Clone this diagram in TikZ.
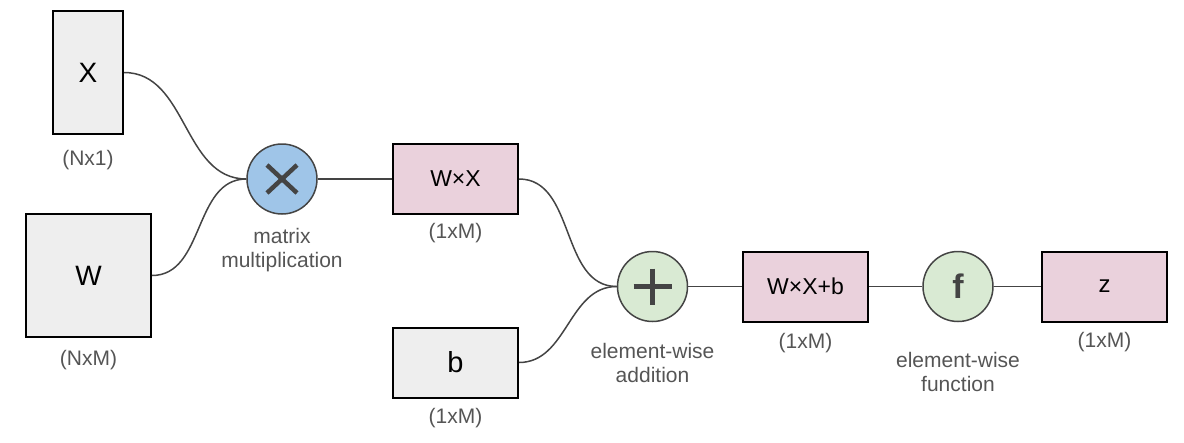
\documentclass[tikz,border=0pt]{standalone}
\usepackage{fontspec}
\setmainfont{Liberation Sans}
\usetikzlibrary{calc}
\definecolor{boxgray}{HTML}{EEEEEE}
\definecolor{boxpink}{HTML}{EAD1DC}
\definecolor{opblue}{HTML}{9FC5E8}
\definecolor{opgreen}{HTML}{D9EAD3}
\definecolor{linegray}{HTML}{444444}
\definecolor{labelgray}{HTML}{555555}
\tikzset{
  mbox/.style={draw=black, line width=2pt, inner sep=0pt, align=center},
  graybox/.style={mbox, fill=boxgray},
  pinkbox/.style={mbox, fill=boxpink, minimum width=125pt, minimum height=70pt},
  opcirc/.style={circle, draw=linegray, line width=1.5pt, minimum size=70pt, inner sep=0pt},
  dimlabel/.style={text=labelgray, font=\fontsize{21}{24}\selectfont, inner sep=0pt},
  oplabel/.style={text=labelgray, font=\fontsize{21}{24}\selectfont, align=center, inner sep=0pt},
  conn/.style={draw=linegray, line width=1.5pt},
  sym/.style={draw=linegray, line width=4.5pt}
}
\begin{document}
\begin{tikzpicture}[x=1pt, y=-1pt]
\useasboundingbox (0,0) rectangle (1184,442);
% input boxes
\node[graybox, minimum width=70pt, minimum height=123pt, font=\fontsize{28}{32}\selectfont] (X) at (88,72.5) {X};
\node[dimlabel] (Xd) at (88,160) {(Nx1)};
\node[graybox, minimum width=125pt, minimum height=123pt, font=\fontsize{28}{32}\selectfont] (W) at (88.5,275.5) {W};
\node[dimlabel] (Wd) at (88.5,360) {(NxM)};
% matrix multiplication
\node[opcirc, fill=opblue] (mul) at (282,179) {};
\draw[sym] ($(mul)+(-15,-14)$) -- ($(mul)+(15,14)$);
\draw[sym] ($(mul)+(-15,14)$) -- ($(mul)+(15,-14)$);
\node[oplabel] (mull) at (282,250) {matrix\\multiplication};
% W x X
\node[pinkbox, font=\fontsize{23}{26}\selectfont] (WX) at (455.5,179) {W×X};
\node[dimlabel] (WXd) at (455.5,233) {(1xM)};
% b
\node[graybox, minimum width=125pt, minimum height=70pt, font=\fontsize{29}{32}\selectfont] (b) at (455.5,362.5) {b};
\node[dimlabel] (bd) at (455.5,418) {(1xM)};
% addition
\node[opcirc, fill=opgreen] (add) at (652.5,286.5) {};
\draw[sym] ($(add)+(-19,0)$) -- ($(add)+(19,0)$);
\draw[sym] ($(add)+(0,-18)$) -- ($(add)+(0,18)$);
\node[oplabel] (addl) at (652.5,362.5) {element-wise\\addition};
% W x X + b
\node[pinkbox, font=\fontsize{23}{26}\selectfont] (WXb) at (805.5,286.5) {W×X+b};
\node[dimlabel] (WXbd) at (805.5,343) {(1xM)};
% function
\node[opcirc, fill=opgreen, text=linegray, font=\fontsize{34}{38}\selectfont\bfseries] (f) at (958,286.5) {f};
\node[oplabel] (fl) at (958,372) {element-wise\\function};
% z
\node[pinkbox, font=\fontsize{24}{28}\selectfont] (z) at (1104.5,286.5) {z};
\node[dimlabel] (zd) at (1104.5,342) {(1xM)};
% connectors
\draw[conn] (X.east) to[out=0, in=180] (mul.west);
\draw[conn] (W.east) to[out=0, in=180] (mul.west);
\draw[conn] (mul.east) -- (WX.west);
\draw[conn] (WX.east) to[out=0, in=180] (add.west);
\draw[conn] (b.east) to[out=0, in=180] (add.west);
\draw[conn] (add.east) -- (WXb.west);
\draw[conn] (WXb.east) -- (f.west);
\draw[conn] (f.east) -- (z.west);
\end{tikzpicture}
\end{document}
